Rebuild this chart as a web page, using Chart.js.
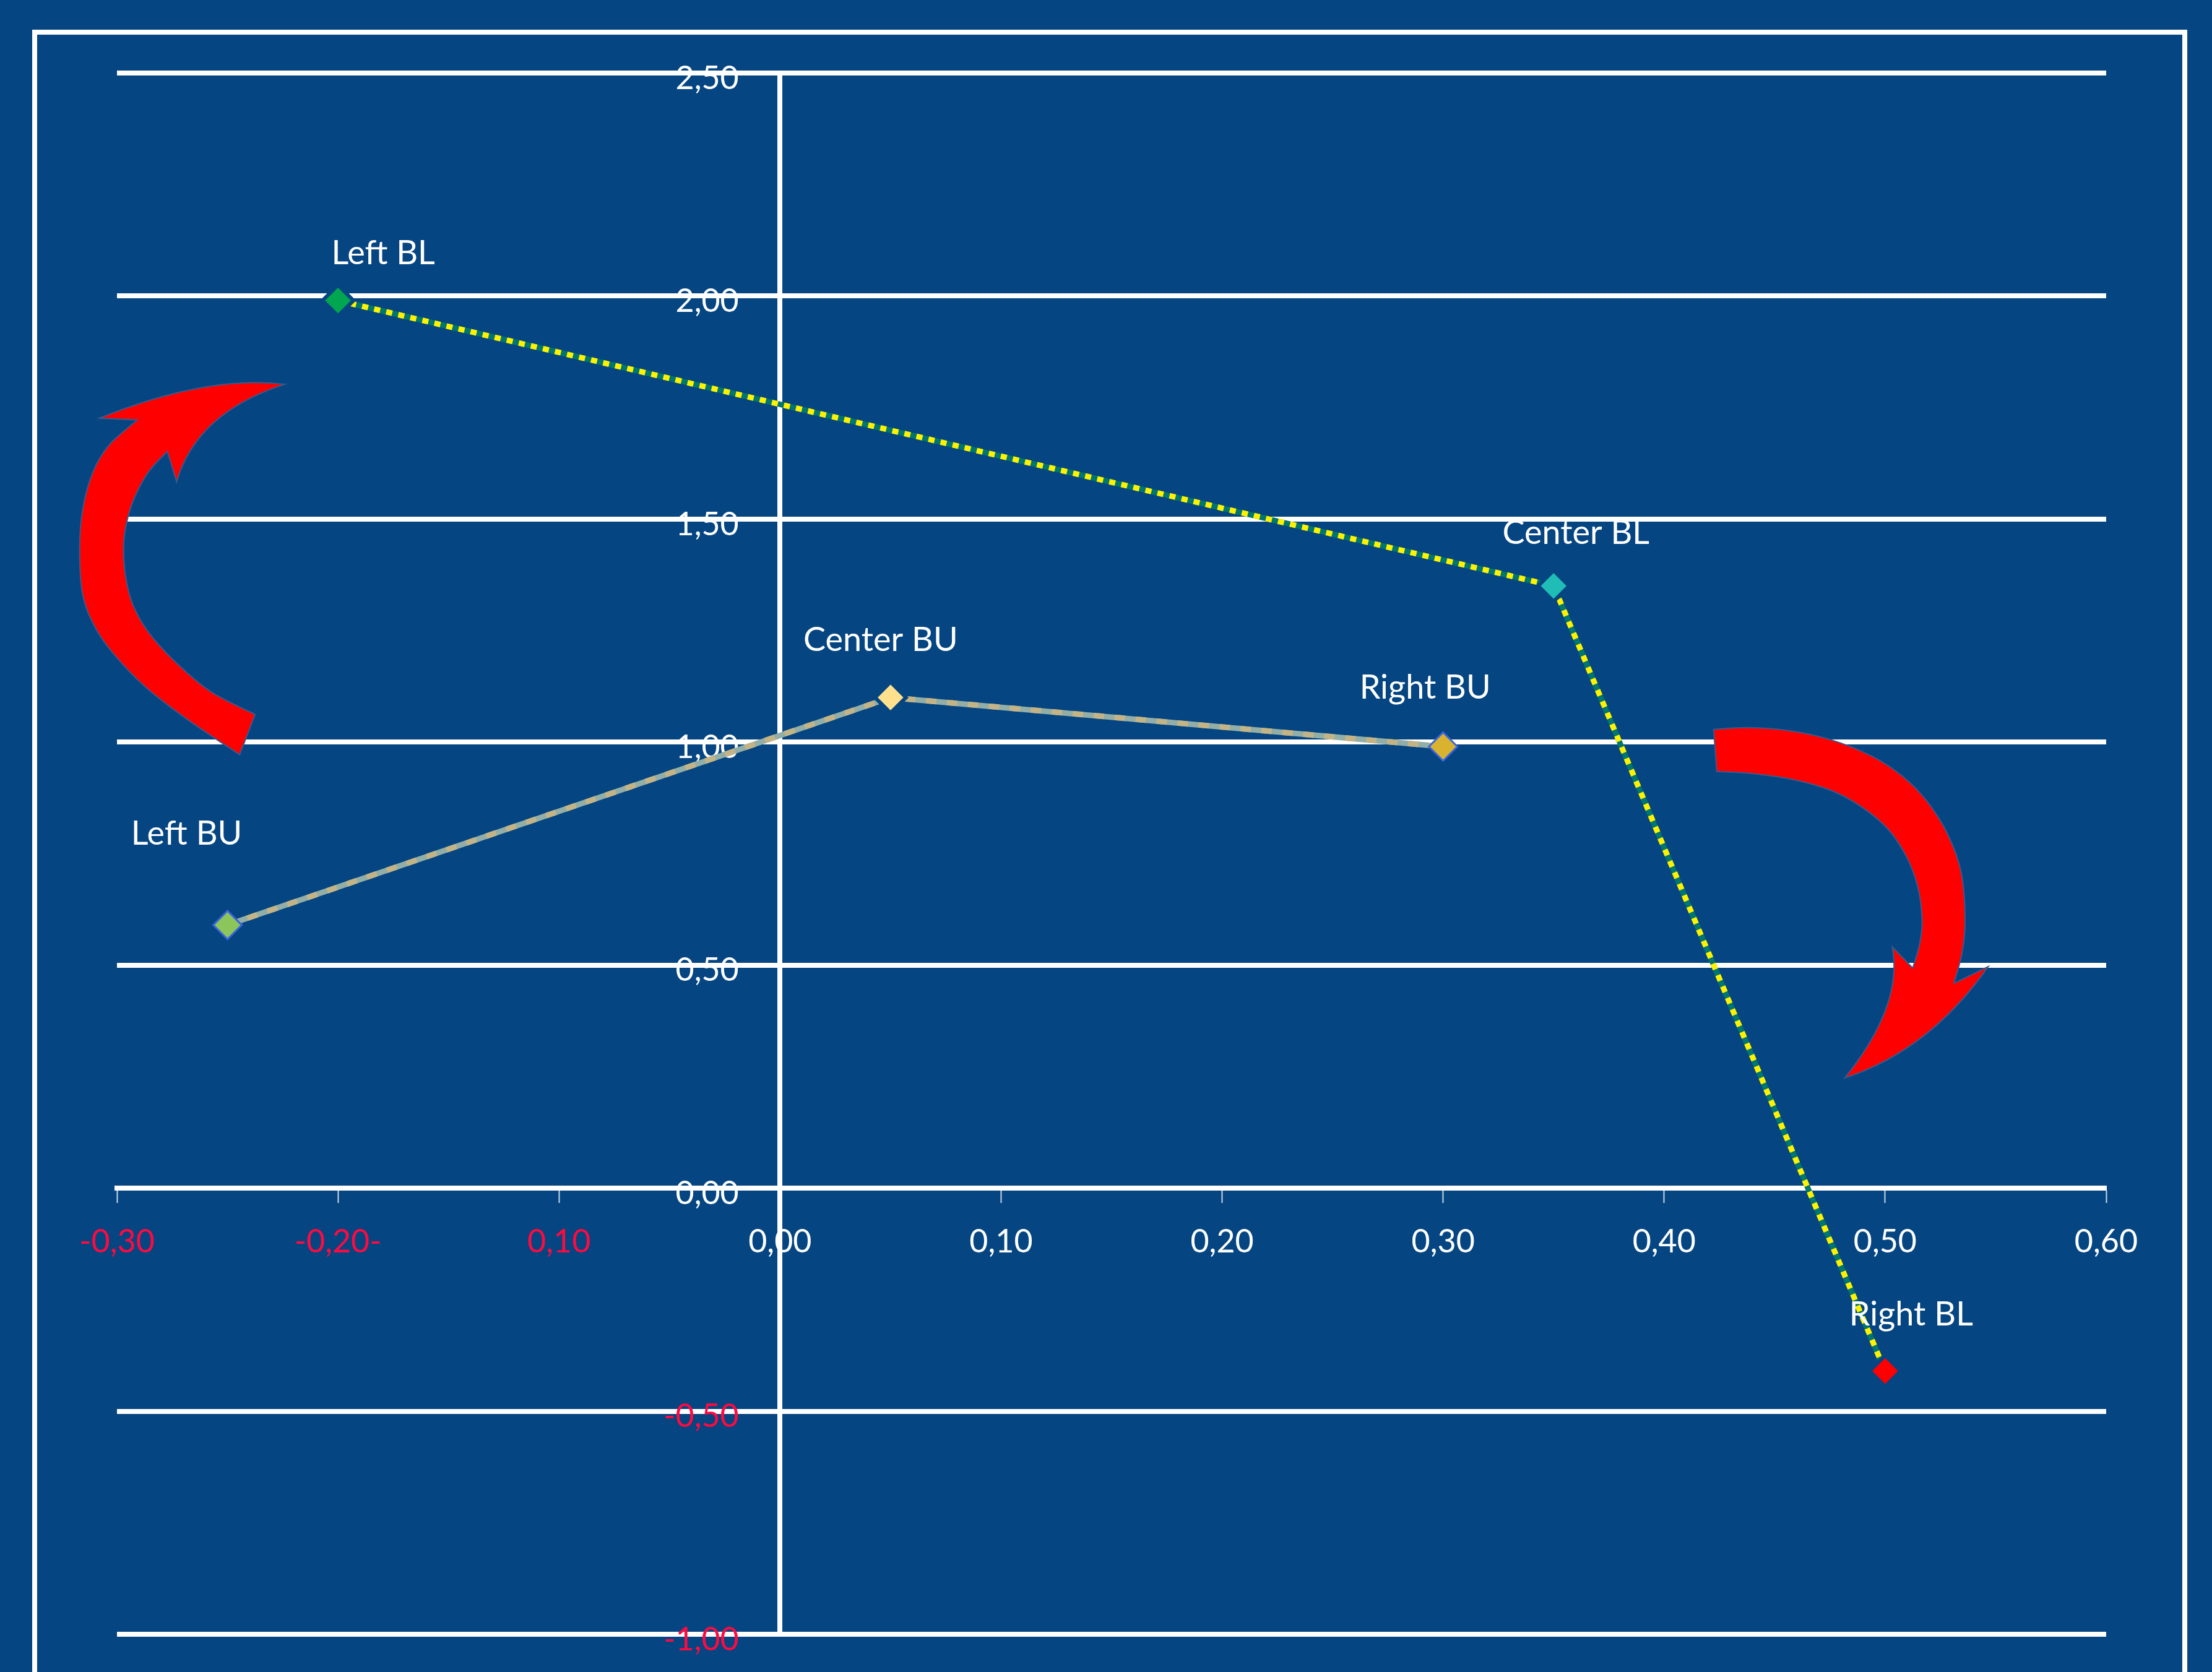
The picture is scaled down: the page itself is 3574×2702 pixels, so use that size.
<!DOCTYPE html>
<html>
<head>
<meta charset="utf-8">
<script src="https://cdn.jsdelivr.net/npm/chart.js@4.4.1/dist/chart.umd.min.js"></script>
<style>
  html, body { margin: 0; padding: 0; background: #044582; }
  canvas { display: block; }
</style>
</head>
<body>
<canvas id="bu-bl-chart" width="3574" height="2702"></canvas>
<script>
// values
const blNames = ['Left BL', 'Center BL', 'Right BL'];
const blX = [-0.20, 0.35, 0.50];
const blY = [1.99, 1.35, -0.41];

const buNames = ['Left BU', 'Center BU', 'Right BU'];
const buX = [-0.25, 0.05, 0.30];
const buY = [0.59, 1.10, 0.99];

const xTickLabels = ['-0,30', '-0,20-', '0,10', '0,00', '0,10', '0,20', '0,30', '0,40', '0,50', '0,60'];
const yTickLabels = ['-1,00', '-0,50', '0,00', '0,50', '1,00', '1,50', '2,00', '2,50'];

const BG = '#044582';
const WHITE = '#ffffff';
const RED = '#ff0a40';
const FONT = 'Lato';

const toPoints = (xs, ys) => xs.map((x, i) => ({ x: x, y: ys[i] }));

// label nudges in px from each marker (text centre, baseline)
const labelNudge = {
    0: [[73, -59], [36, -68], [42, -74]],
    2: [[-66, -130], [-16, -75], [-29, -77]]
};
const labelNames = { 0: blNames, 2: buNames };

// big red curved arrows, outlined in data units
const leftArrow = {
    outer: [[-0.2445, 0.9718], [-0.2688, 1.0530], [-0.2875, 1.1252], [-0.3015, 1.1975], [-0.3099, 1.2575],
            [-0.3155, 1.3298], [-0.3169, 1.4320], [-0.3155, 1.5224], [-0.3108, 1.6066], [-0.3034, 1.6667], [-0.2908, 1.7221]],
    barb: [-0.3080, 1.7261],
    c1: [-0.2596, 1.8232],
    tip: [-0.2240, 1.8024],
    c2: [-0.2641, 1.7386],
    barb2: [-0.2730, 1.5832],
    inner: [[-0.2772, 1.6516], [-0.2856, 1.6066], [-0.2922, 1.5464], [-0.2959, 1.4862], [-0.2970, 1.4320], [-0.2959, 1.3658],
            [-0.2926, 1.3057], [-0.2856, 1.2455], [-0.2735, 1.1794], [-0.2576, 1.1132], [-0.2375, 1.0620]]
};
const rightArrow = {
    outer: [[0.4224, 1.0285], [0.4378, 1.0325], [0.4565, 1.0257], [0.4751, 1.0058], [0.4938, 0.9690], [0.5078, 0.9237],
            [0.5190, 0.8671], [0.5283, 0.7934], [0.5344, 0.7084], [0.5362, 0.6009], [0.5348, 0.5272], [0.5311, 0.4592]],
    barb: [0.5466, 0.4967],
    c1: [0.5203, 0.3094],
    tip: [0.4817, 0.2470],
    c2: [0.5083, 0.4107],
    barb2: [0.5032, 0.5411],
    inner: [[0.5125, 0.4933], [0.5157, 0.5499], [0.5167, 0.6009], [0.5148, 0.6745], [0.5097, 0.7425], [0.5013, 0.8048],
            [0.4891, 0.8557], [0.4751, 0.8926], [0.4565, 0.9180], [0.4378, 0.9305], [0.4238, 0.9340]]
};

function smoothThrough(ctx, pts) {
    for (let i = 0; i < pts.length - 1; i++) {
        const p0 = pts[i - 1] || pts[i];
        const p1 = pts[i];
        const p2 = pts[i + 1];
        const p3 = pts[i + 2] || pts[i + 1];
        ctx.bezierCurveTo(
            p1[0] + (p2[0] - p0[0]) / 6, p1[1] + (p2[1] - p0[1]) / 6,
            p2[0] - (p3[0] - p1[0]) / 6, p2[1] - (p3[1] - p1[1]) / 6,
            p2[0], p2[1]
        );
    }
}

function drawArrow(chart, a) {
    const sx = chart.scales.x, sy = chart.scales.y;
    const px = p => [sx.getPixelForValue(p[0]), sy.getPixelForValue(p[1])];
    const outer = a.outer.map(px), inner = a.inner.map(px);
    const barb = px(a.barb), c1 = px(a.c1), tip = px(a.tip), c2 = px(a.c2), barb2 = px(a.barb2);
    const ctx = chart.ctx;
    ctx.save();
    ctx.beginPath();
    ctx.moveTo(outer[0][0], outer[0][1]);
    smoothThrough(ctx, outer);
    ctx.lineTo(barb[0], barb[1]);
    ctx.quadraticCurveTo(c1[0], c1[1], tip[0], tip[1]);
    ctx.quadraticCurveTo(c2[0], c2[1], barb2[0], barb2[1]);
    ctx.lineTo(inner[0][0], inner[0][1]);
    smoothThrough(ctx, inner);
    ctx.closePath();
    ctx.fillStyle = '#ff0000';
    ctx.fill();
    ctx.lineWidth = 2;
    ctx.strokeStyle = '#3a5a8c';
    ctx.stroke();
    ctx.restore();
}

const backdrop = {
    id: 'backdrop',
    beforeDraw(chart) {
        const ctx = chart.ctx;
        ctx.save();
        ctx.fillStyle = BG;
        ctx.fillRect(0, 0, chart.width, chart.height);
        ctx.strokeStyle = WHITE;
        ctx.lineWidth = 8;
        ctx.strokeRect(56, 52, 3474, 2800);
        ctx.restore();
    }
};

const pointLabels = {
    id: 'pointLabels',
    afterDatasetsDraw(chart) {
        const ctx = chart.ctx;
        ctx.save();
        ctx.fillStyle = WHITE;
        ctx.font = '54px ' + FONT;
        ctx.textAlign = 'center';
        ctx.textBaseline = 'alphabetic';
        Object.keys(labelNames).forEach(di => {
            const meta = chart.getDatasetMeta(Number(di));
            meta.data.forEach((pt, i) => {
                const n = labelNudge[di][i];
                ctx.fillText(labelNames[di][i], pt.x + n[0], pt.y + n[1]);
            });
        });
        ctx.restore();
    },
    afterDraw(chart) {
        drawArrow(chart, leftArrow);
        drawArrow(chart, rightArrow);
    }
};

const tickColor = c => (c.tick && c.tick.value < -1e-9 ? RED : WHITE);

const ctx = document.getElementById('bu-bl-chart').getContext('2d');
const buBlChart = new Chart(ctx, {
    type: 'scatter',
    data: {
        datasets: [
            {
                label: 'BL',
                data: toPoints(blX, blY),
                showLine: true,
                borderColor: '#fff200',
                borderWidth: 9,
                borderDash: [10, 10],
                borderCapStyle: 'butt',
                pointStyle: 'rectRot',
                pointRadius: 25,
                pointBackgroundColor: ['#00a650', '#1fbdb5', '#ff0000'],
                pointBorderColor: BG,
                pointBorderWidth: 6,
                order: 1
            },
            {
                label: 'BL base',
                data: toPoints(blX, blY),
                showLine: true,
                borderColor: '#00766e',
                borderWidth: 9,
                pointRadius: 0,
                order: 2
            },
            {
                label: 'BU',
                data: toPoints(buX, buY),
                showLine: true,
                borderColor: '#c3b487',
                borderWidth: 9,
                borderDash: [17, 17],
                borderCapStyle: 'butt',
                pointStyle: 'rectRot',
                pointRadius: [23, 25, 23],
                pointBackgroundColor: ['#8cc65a', '#ffe08c', '#d9b330'],
                pointBorderColor: ['#3c63dc', BG, '#3c63dc'],
                pointBorderWidth: [3, 6, 3],
                order: 3
            },
            {
                label: 'BU base',
                data: toPoints(buX, buY),
                showLine: true,
                borderColor: '#93aea6',
                borderWidth: 9,
                pointRadius: 0,
                order: 4
            }
        ]
    },
    options: {
        responsive: false,
        devicePixelRatio: 1,
        animation: false,
        events: [],
        layout: {
            padding: { left: 189, right: 171, top: 118, bottom: 61 }
        },
        plugins: {
            legend: { display: false },
            tooltip: { enabled: false }
        },
        scales: {
            x: {
                type: 'linear',
                position: { y: 0 },
                min: -0.3,
                max: 0.6,
                border: { display: true, color: WHITE, width: 8 },
                grid: {
                    drawOnChartArea: false,
                    drawTicks: true,
                    tickLength: 20,
                    tickWidth: 2,
                    tickColor: 'rgba(225,232,242,0.9)'
                },
                ticks: {
                    stepSize: 0.1,
                    autoSkip: false,
                    maxRotation: 0,
                    padding: 36,
                    color: tickColor,
                    font: { family: FONT, size: 52 },
                    callback: (value, index) => xTickLabels[index]
                }
            },
            y: {
                type: 'linear',
                position: { x: 0 },
                min: -1,
                max: 2.5,
                border: { display: true, color: WHITE, width: 8 },
                grid: {
                    color: WHITE,
                    lineWidth: 8,
                    drawTicks: false
                },
                ticks: {
                    stepSize: 0.5,
                    autoSkip: false,
                    labelOffset: 9,
                    color: tickColor,
                    font: { family: FONT, size: 52 },
                    callback: (value, index) => yTickLabels[index] + '     '
                }
            }
        }
    },
    plugins: [backdrop, pointLabels]
});
</script>
</body>
</html>
